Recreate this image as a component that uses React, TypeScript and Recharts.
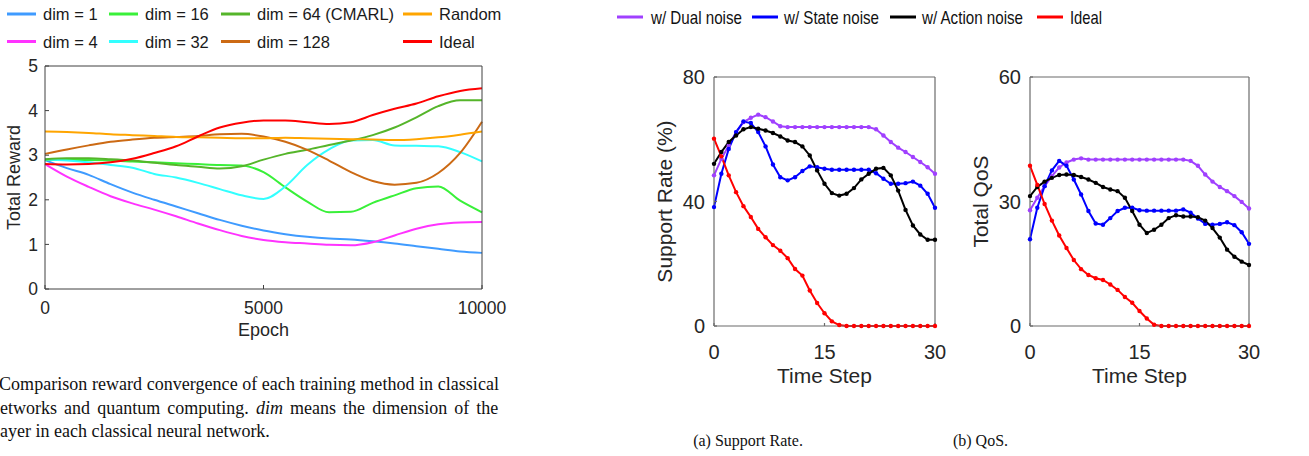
import React from 'react';
import { LineChart, Line, XAxis, YAxis } from 'recharts';

// ---------- Left chart: reward convergence ----------
const epochs = [0, 500, 1000, 1500, 2000, 2500, 3000, 3500, 4000, 4500, 5000, 5500, 6000, 6500, 7000, 7500, 8000, 8500, 9000, 9500, 10000];
const dim1 = [2.89, 2.71, 2.56, 2.35, 2.16, 2.0, 1.85, 1.7, 1.55, 1.42, 1.31, 1.23, 1.17, 1.13, 1.11, 1.07, 1.02, 0.96, 0.9, 0.84, 0.81];
const dim4 = [2.8, 2.52, 2.29, 2.08, 1.92, 1.78, 1.63, 1.47, 1.32, 1.19, 1.1, 1.05, 1.02, 0.99, 0.98, 1.05, 1.2, 1.35, 1.45, 1.49, 1.5];
const dim16 = [2.89, 2.89, 2.89, 2.88, 2.86, 2.84, 2.82, 2.8, 2.78, 2.77, 2.62, 2.28, 1.96, 1.72, 1.73, 1.93, 2.1, 2.26, 2.3, 1.98, 1.72];
const dim32 = [2.91, 2.88, 2.84, 2.78, 2.72, 2.58, 2.5, 2.38, 2.24, 2.1, 2.02, 2.3, 2.78, 3.13, 3.33, 3.34, 3.22, 3.21, 3.2, 3.07, 2.86];
const dim64 = [2.91, 2.93, 2.93, 2.91, 2.88, 2.83, 2.78, 2.74, 2.7, 2.75, 2.9, 3.03, 3.12, 3.23, 3.33, 3.45, 3.62, 3.85, 4.1, 4.23, 4.23];
const dim128 = [3.03, 3.13, 3.22, 3.3, 3.35, 3.39, 3.41, 3.43, 3.47, 3.48, 3.42, 3.3, 3.12, 2.88, 2.62, 2.42, 2.34, 2.38, 2.6, 3.05, 3.75];
const randomRw = [3.53, 3.52, 3.5, 3.47, 3.45, 3.43, 3.41, 3.4, 3.39, 3.38, 3.38, 3.39, 3.38, 3.37, 3.36, 3.35, 3.34, 3.36, 3.4, 3.46, 3.53];
const idealRw = [2.8, 2.79, 2.8, 2.84, 2.92, 3.05, 3.2, 3.42, 3.62, 3.73, 3.78, 3.78, 3.74, 3.7, 3.74, 3.9, 4.04, 4.16, 4.32, 4.44, 4.5];
const epochTicks = [0, 5000, 10000];
const rewardTicks = [0, 1, 2, 3, 4, 5];

// ---------- Middle / right charts ----------
const steps = [0, 1, 2, 3, 4, 5, 6, 7, 8, 9, 10, 11, 12, 13, 14, 15, 16, 17, 18, 19, 20, 21, 22, 23, 24, 25, 26, 27, 28, 29, 30];
const srDual = [48.4, 53.7, 58.0, 62.3, 65.5, 66.9, 67.9, 67.1, 65.7, 64.2, 63.9, 63.9, 63.9, 63.9, 63.9, 63.9, 63.9, 63.9, 63.9, 63.9, 63.9, 63.9, 63.2, 61.2, 59.1, 57.3, 55.9, 54.3, 52.7, 51.0, 48.9];
const srState = [38.2, 48.9, 56.9, 62.3, 65.7, 65.2, 62.3, 57.7, 51.9, 47.8, 46.8, 47.8, 49.8, 51.3, 51.0, 50.5, 50.2, 50.2, 50.2, 50.2, 50.2, 50.2, 49.1, 47.3, 45.7, 45.7, 45.9, 46.4, 45.1, 42.5, 38.0];
const srAction = [52.1, 55.9, 59.1, 61.2, 63.2, 63.9, 63.4, 62.8, 62.0, 60.9, 59.6, 59.1, 57.7, 54.8, 50.0, 45.7, 42.7, 41.9, 42.5, 44.3, 47.1, 48.9, 50.5, 50.8, 48.4, 43.5, 37.3, 32.3, 29.4, 27.7, 27.7];
const srIdeal = [60.2, 54.5, 48.4, 43.0, 38.5, 35.0, 31.2, 28.5, 26.0, 24.2, 21.8, 18.3, 16.2, 11.4, 7.4, 4.1, 1.5, 0.3, 0, 0, 0, 0, 0, 0, 0, 0, 0, 0, 0, 0, 0];
const qosDual = [27.9, 30.9, 33.7, 36.1, 38.2, 39.4, 40.1, 40.4, 40.1, 40.1, 40.1, 40.1, 40.1, 40.1, 40.1, 40.1, 40.1, 40.1, 40.1, 40.1, 40.1, 40.1, 39.8, 38.6, 36.5, 34.8, 33.5, 32.5, 31.3, 29.9, 28.3];
const qosState = [20.9, 28.5, 33.7, 37.5, 39.8, 38.6, 35.3, 31.7, 27.7, 24.7, 24.4, 26.0, 27.7, 28.5, 28.5, 27.9, 27.8, 27.8, 27.8, 27.8, 27.8, 28.1, 27.3, 25.9, 24.6, 24.4, 24.6, 25.0, 24.3, 22.6, 19.8];
const qosAction = [31.3, 33.5, 34.8, 35.7, 36.4, 36.5, 36.4, 35.9, 35.3, 34.5, 33.5, 32.9, 32.5, 30.9, 27.7, 24.4, 22.4, 23.2, 24.4, 26.0, 26.7, 26.4, 26.4, 26.2, 25.4, 23.6, 21.3, 18.4, 16.7, 15.5, 14.7];
const qosIdeal = [38.6, 34.0, 29.4, 25.4, 21.8, 18.8, 15.9, 13.7, 12.3, 11.5, 11.1, 10.0, 8.7, 7.0, 5.6, 3.6, 1.8, 0.3, 0, 0, 0, 0, 0, 0, 0, 0, 0, 0, 0, 0, 0];
const stepTicks = [0, 15, 30];
const srTicks = [0, 40, 80];
const qosTicks = [0, 30, 60];

const leftData = epochs.map((e, i) => ({
  epoch: e, dim1: dim1[i], dim4: dim4[i], dim16: dim16[i], dim32: dim32[i],
  dim64: dim64[i], dim128: dim128[i], random: randomRw[i], ideal: idealRw[i],
}));
const srData = steps.map((s, i) => ({ t: s, dual: srDual[i], state: srState[i], action: srAction[i], ideal: srIdeal[i] }));
const qosData = steps.map((s, i) => ({ t: s, dual: qosDual[i], state: qosState[i], action: qosAction[i], ideal: qosIdeal[i] }));

const SANS = "'Liberation Sans', Arial, Helvetica, sans-serif";
const SERIF = "'Liberation Serif', 'Times New Roman', Times, serif";
const TXT = '#262626';

const leftSeries = [
  { key: 'dim1', name: 'dim = 1', color: '#3F9BFF' },
  { key: 'dim4', name: 'dim = 4', color: '#FF33FF' },
  { key: 'dim16', name: 'dim = 16', color: '#39F039' },
  { key: 'dim32', name: 'dim = 32', color: '#33FFFF' },
  { key: 'dim64', name: 'dim = 64 (CMARL)', color: '#55B52A' },
  { key: 'dim128', name: 'dim = 128', color: '#CC6A14' },
  { key: 'random', name: 'Random', color: '#FFA500' },
  { key: 'ideal', name: 'Ideal', color: '#FF0000' },
];
const rightSeries = [
  { key: 'dual', name: 'w/ Dual noise', color: '#A040FF' },
  { key: 'state', name: 'w/ State noise', color: '#0000FF' },
  { key: 'action', name: 'w/ Action noise', color: '#000000' },
  { key: 'ideal', name: 'Ideal', color: '#FF0000' },
];

function NoiseChart(props: { data: any[]; ticks: number[]; max: number; label: string; left: number; width: number; marginRight: number; yWidth: number; labelOffset: number }) {
  const { data, ticks, max, label, left, width, marginRight, yWidth, labelOffset } = props;
  const axisStroke = '#6b6b6b';
  return (
    <div style={{ position: 'absolute', left, top: 0 }}>
      <LineChart width={width} height={400} data={data} margin={{ top: 76, right: marginRight, bottom: 10, left: 0 }}>
        <XAxis dataKey="t" type="number" domain={[0, 30]} ticks={stepTicks} height={64} tickSize={-3} tickMargin={22}
          stroke={axisStroke} strokeWidth={1.2} tick={{ fill: TXT, fontSize: 20, fontFamily: SANS }}
          label={{ value: 'Time Step', position: 'insideBottom', offset: 7, fill: TXT, fontSize: 21, fontFamily: SANS }} />
        <XAxis xAxisId="top" orientation="top" dataKey="t" type="number" domain={[0, 30]} ticks={stepTicks} height={1}
          tickSize={-3} tick={false} stroke={axisStroke} strokeWidth={1.2} />
        <YAxis type="number" domain={[0, max]} ticks={ticks} width={yWidth} tickSize={-3} tickMargin={12}
          stroke={axisStroke} strokeWidth={1.2} tick={{ fill: TXT, fontSize: 20, fontFamily: SANS }}
          label={{ value: label, angle: -90, position: 'insideLeft', offset: labelOffset, fill: TXT, fontSize: 21, fontFamily: SANS, style: { textAnchor: 'middle' } }} />
        <YAxis yAxisId="right" orientation="right" type="number" domain={[0, max]} ticks={ticks} width={1}
          tickSize={-3} tick={false} stroke={axisStroke} strokeWidth={1.2} />
        {rightSeries.map((s) => (
          <Line key={s.key} dataKey={s.key} type="linear" stroke={s.color} strokeWidth={2}
            dot={{ r: 2.2, fill: s.color, stroke: s.color, strokeWidth: 0 }} isAnimationActive={false} />
        ))}
      </LineChart>
    </div>
  );
}

export default function App() {
  const leftLegend = [
    { s: leftSeries[0], x: 7, y: 14 }, { s: leftSeries[2], x: 109, y: 14 }, { s: leftSeries[4], x: 221, y: 14 }, { s: leftSeries[6], x: 403, y: 14 },
    { s: leftSeries[1], x: 7, y: 41.5 }, { s: leftSeries[3], x: 109, y: 41.5 }, { s: leftSeries[5], x: 221, y: 41.5 }, { s: leftSeries[7], x: 403, y: 41.5 },
  ];
  const rightLegend = [
    { s: rightSeries[0], x: 617, tx: 651, tw: 91 },
    { s: rightSeries[1], x: 752, tx: 784, tw: 95 },
    { s: rightSeries[2], x: 890, tx: 922, tw: 101 },
    { s: rightSeries[3], x: 1037, tx: 1070, tw: 32 },
  ];
  const axisL = '#404040';
  return (
    <div style={{ position: 'absolute', left: 0, top: 0, width: 1309, height: 456, background: '#fff', overflow: 'hidden' }}>
      <div style={{ position: 'absolute', left: 0, top: 0 }}>
        <LineChart width={520} height={350} data={leftData} margin={{ top: 65, right: 37, bottom: 6, left: 0 }}>
          <XAxis dataKey="epoch" type="number" domain={[0, 10000]} ticks={epochTicks} height={55} tickSize={-4} tickMargin={17}
            stroke={axisL} tick={{ fill: TXT, fontSize: 17.5, fontFamily: SANS }}
            label={{ value: 'Epoch', position: 'insideBottom', offset: 8, fill: TXT, fontSize: 18, fontFamily: SANS }} />
          <XAxis xAxisId="top" orientation="top" dataKey="epoch" type="number" domain={[0, 10000]} ticks={epochTicks} height={1}
            tickSize={-4} tick={false} stroke={axisL} />
          <YAxis type="number" domain={[0, 5]} ticks={rewardTicks} width={45} tickSize={-4} tickMargin={11}
            stroke={axisL} tick={{ fill: TXT, fontSize: 17.5, fontFamily: SANS }}
            label={{ value: 'Total Reward', angle: -90, position: 'insideLeft', offset: 14, fill: TXT, fontSize: 18, fontFamily: SANS, style: { textAnchor: 'middle' } }} />
          <YAxis yAxisId="right" orientation="right" type="number" domain={[0, 5]} ticks={rewardTicks} width={1}
            tickSize={-4} tick={false} stroke={axisL} />
          {leftSeries.map((s) => (
            <Line key={s.key} dataKey={s.key} type="monotone" stroke={s.color} strokeWidth={2} dot={false} isAnimationActive={false} />
          ))}
        </LineChart>
      </div>

      <NoiseChart data={srData} ticks={srTicks} max={80} label="Support Rate (%)" left={640} width={320} marginRight={24} yWidth={74} labelOffset={24.5} />
      <NoiseChart data={qosData} ticks={qosTicks} max={60} label="Total QoS" left={960} width={349} marginRight={59} yWidth={70} labelOffset={21} />

      <svg width={1309} height={456} style={{ position: 'absolute', left: 0, top: 0, pointerEvents: 'none' }}>
        {leftLegend.map(({ s, x, y }) => (
          <g key={s.key}>
            <line x1={x} x2={x + 29} y1={y} y2={y} stroke={s.color} strokeWidth={3} />
            <text x={x + 36} y={y} dominantBaseline="central" fontFamily={SANS} fontSize={16.5} fill="#1a1a1a">{s.name}</text>
          </g>
        ))}
        {rightLegend.map(({ s, x, tx, tw }) => (
          <g key={s.key}>
            <line x1={x} x2={x + 26} y1={17} y2={17} stroke={s.color} strokeWidth={3} />
            <text x={tx} y={17} dominantBaseline="central" fontFamily={"'Liberation Sans Narrow', " + SANS} fontSize={18.5} fill="#111"
              textLength={tw} lengthAdjust="spacingAndGlyphs">{s.name}</text>
          </g>
        ))}
        <text x={-1} y={390} fontFamily={SERIF} fontSize={18} fill="#111" textLength={500} lengthAdjust="spacing">
          Comparison reward convergence of each training method in classical
        </text>
        <text x={-9} y={414} fontFamily={SERIF} fontSize={18} fill="#111" style={{ wordSpacing: '2.6px' }}>
          networks and quantum computing. <tspan fontStyle="italic">dim</tspan> means the dimension of the
        </text>
        <text x={-5} y={437} fontFamily={SERIF} fontSize={18} fill="#111">
          layer in each classical neural network.
        </text>
        <text x={748} y={446} textAnchor="middle" fontFamily={SERIF} fontSize={16} fill="#111">(a) Support Rate.</text>
        <text x={980.5} y={446} textAnchor="middle" fontFamily={SERIF} fontSize={16} fill="#111">(b) QoS.</text>
      </svg>
    </div>
  );
}
